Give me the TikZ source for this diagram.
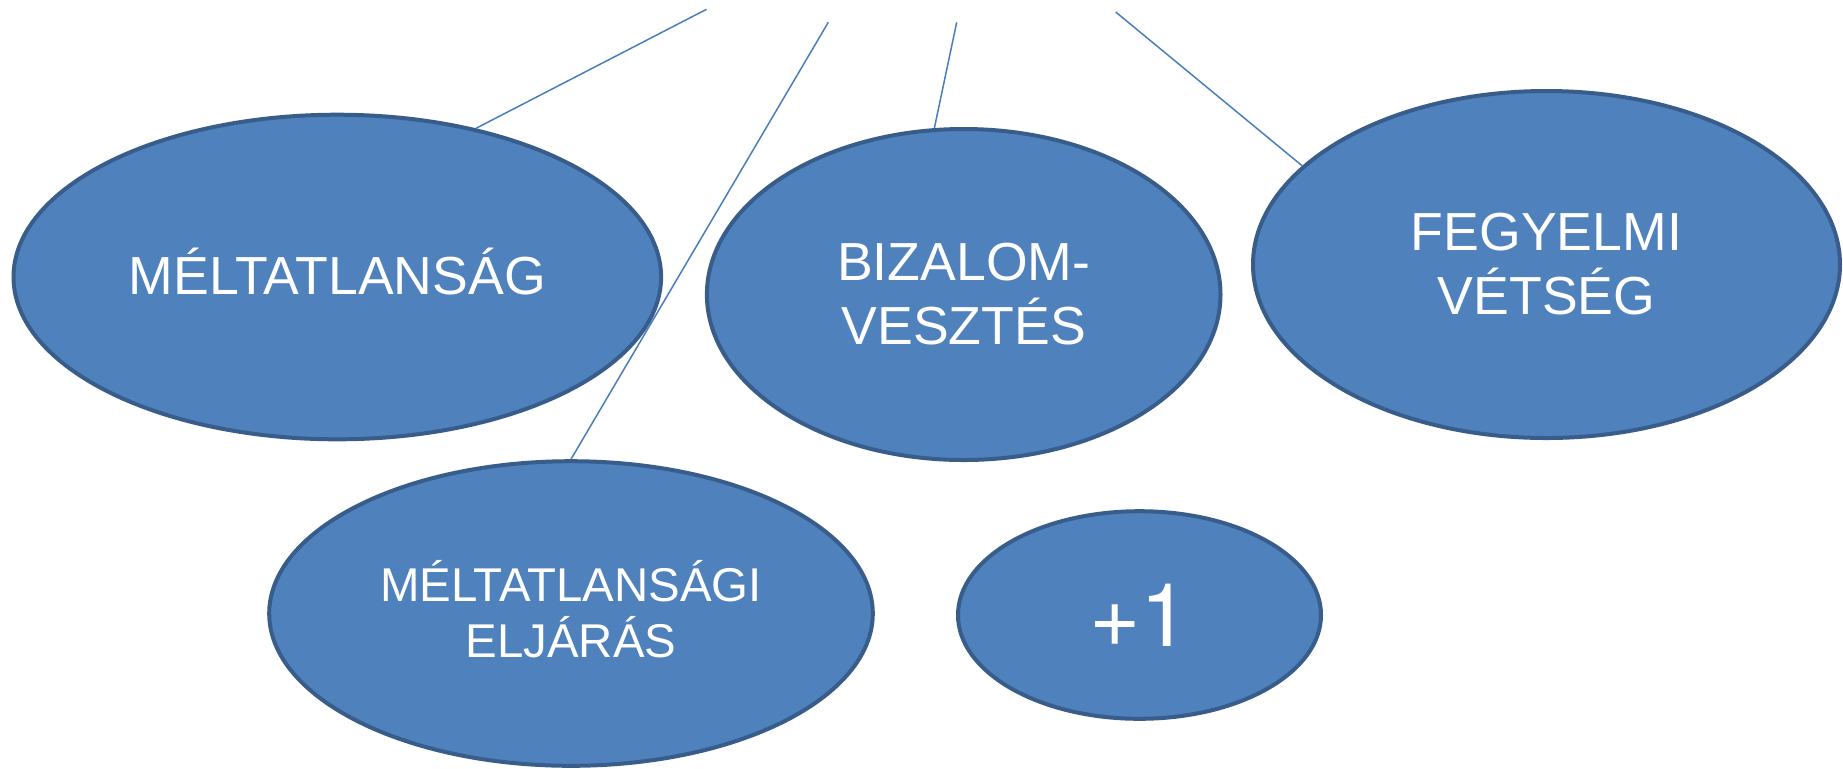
\documentclass[tikz,border=0pt]{standalone}
\usepackage{fontspec}
\setmainfont{Liberation Sans}
\newfontfamily\plusfont{TeX Gyre Heros}
\usetikzlibrary{shapes.geometric}
\definecolor{ovalfill}{HTML}{4F81BD}
\definecolor{ovalline}{HTML}{385D8A}
\definecolor{linkcol}{HTML}{4A7EBB}
\newcommand\dpfix{\rule[-0.2em]{0pt}{0.2em}}
\tikzset{
  oval/.style={ellipse, fill=ovalfill, draw=ovalline, line width=2pt, inner sep=0pt,
    text=white, align=center},
  bigtxt/.style={font=\fontsize{26.8pt}{32pt}\selectfont},
  midtxt/.style={font=\fontsize{23.7pt}{28pt}\selectfont},
  hugetxt/.style={font=\plusfont\fontsize{44pt}{50pt}\selectfont},
  link/.style={draw=linkcol, line width=0.75pt}
}
\begin{document}
\begin{tikzpicture}[x=0.5pt,y=-0.5pt]
\useasboundingbox (0,0) rectangle (1843,768);
\node[oval, bigtxt, minimum width=323.8pt, minimum height=162.3pt] (e1) at (337.3,277) {MÉLTATLANSÁG\dpfix};
\node[oval, bigtxt, minimum width=256.8pt, minimum height=165.5pt] (e2) at (963.7,294.5) {BIZALOM-\\VESZTÉS};
\node[oval, bigtxt, minimum width=293.5pt, minimum height=173.5pt] (e3) at (1546.5,264.5) {FEGYELMI\\VÉTSÉG};
\node[oval, midtxt, minimum width=301.8pt, minimum height=152.3pt] (e4) at (571,613.5) {MÉLTATLANSÁGI\\ELJÁRÁS\dpfix};
\node[oval, hugetxt, minimum width=181.5pt, minimum height=103.8pt] (e5) at (1139.5,615) {+1};
\coordinate (p1) at (706.5,9.3);
\coordinate (p2) at (828.3,22.3);
\coordinate (p3) at (956.7,22.3);
\coordinate (p4) at (1115.7,12);
\draw[link] (p1) -- (e1.47);
\draw[link] (p2) -- (e4.90);
\draw[link] (p3) -- (e2.100);
\draw[link] (p4) -- (e3.158);
\end{tikzpicture}
\end{document}
